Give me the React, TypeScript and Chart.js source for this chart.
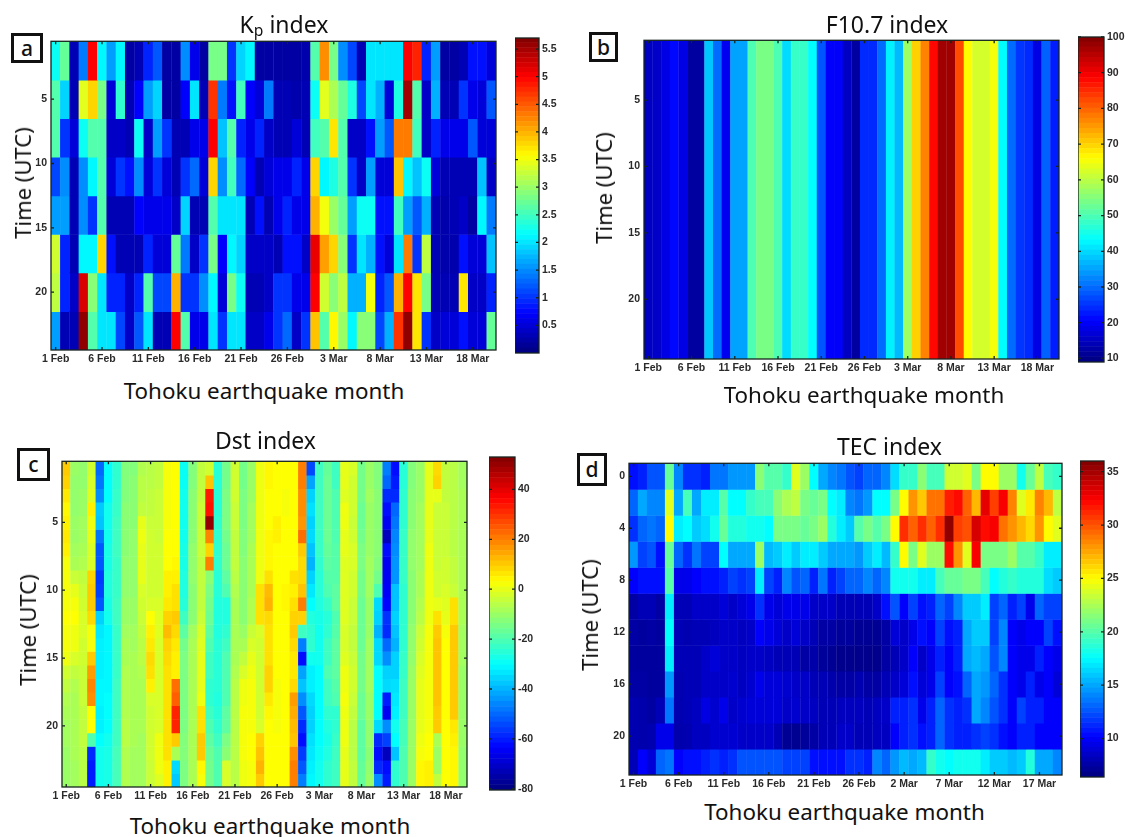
import React, { useEffect, useRef } from "react";
import { Chart, registerables } from "chart.js";

Chart.register(...registerables);

// ---------- axis labels ----------
const febMarLabels = [
  "1 Feb","2 Feb","3 Feb","4 Feb","5 Feb","6 Feb","7 Feb","8 Feb","9 Feb","10 Feb","11 Feb","12 Feb","13 Feb","14 Feb","15 Feb","16 Feb","17 Feb","18 Feb","19 Feb","20 Feb","21 Feb","22 Feb","23 Feb","24 Feb","25 Feb","26 Feb","27 Feb","28 Feb",
  "1 Mar","2 Mar","3 Mar","4 Mar","5 Mar","6 Mar","7 Mar","8 Mar","9 Mar","10 Mar","11 Mar","12 Mar","13 Mar","14 Mar","15 Mar","16 Mar","17 Mar","18 Mar","19 Mar","20 Mar",
];
const tecLabels = [
  "1 Feb","2 Feb","3 Feb","4 Feb","5 Feb","6 Feb","7 Feb","8 Feb","9 Feb","10 Feb","11 Feb","12 Feb","13 Feb","14 Feb","15 Feb","16 Feb","17 Feb","18 Feb","19 Feb","20 Feb","21 Feb","22 Feb","23 Feb","24 Feb","25 Feb","26 Feb","27 Feb","28 Feb","29 Feb",
  "1 Mar","2 Mar","3 Mar","4 Mar","5 Mar","6 Mar","7 Mar","8 Mar","9 Mar","10 Mar","11 Mar","12 Mar","13 Mar","14 Mar","15 Mar","16 Mar","17 Mar","18 Mar","19 Mar",
];

// ---------- Kp: 8 three-hour rows x 48 days ----------
const kpRows = [
  [2.2,2.7,.3,1.4,5.0,2.1,1.6,2.1,.2,.3,.9,1.2,.2,.2,1.5,.6,.2,2.8,2.8,1.0,1.9,2.1,.2,.2,.2,.2,.2,.25,2.6,4.2,2.8,1.5,1.1,.3,2,2,2,2,5,4.8,.9,1.6,.2,.2,.3,.8,.8,.5],
  [2.6,1.9,.3,3.4,3.8,2.8,.5,2.4,.3,.7,1.6,1.9,.2,.2,.7,2.0,.3,4.7,1.4,.8,2.5,.7,.5,1.4,.3,.3,.25,.3,2.2,3.4,3.1,2.7,2.3,1.1,2,1.7,.5,2.3,5.5,2.6,.4,1.7,.3,.3,1,.6,.5,1.2],
  [2.6,1,.5,2.2,2.6,2.6,.4,.4,.3,2.2,.4,1.6,1,.3,.3,.6,.6,5,1.8,2.6,.9,.6,.9,.4,.3,.3,.5,.3,2.5,2.6,3.7,2.6,.4,.4,.8,1.6,1.2,4.3,4.3,2.5,.4,.9,.6,.6,.6,1.2,.5,.5],
  [1.1,1.5,.3,1.5,2.1,2.6,.5,1,.8,1.5,.5,1,.5,.3,1,1.3,.5,3.8,1.5,2.5,1.3,.7,.3,.5,.6,.6,.9,.6,3.8,2.1,2.3,2.6,1,.4,1.6,.5,.5,3.9,2.1,1.8,2.2,.5,.3,.3,.3,.3,1.8,.4],
  [1.6,1.6,.3,1.5,1,2.6,.3,.3,.3,.7,.6,.6,.6,.4,1.9,.3,.3,2.6,2,2,2,.3,.8,.3,.6,.9,.6,.6,4,3.5,3,2.7,1.6,2.2,2.2,.8,.8,2.5,1.6,1.2,1.7,.3,.25,.3,.4,.2,2.1,1.4],
  [3.3,.9,.3,2.1,2.1,3.8,.8,.3,.3,.3,.9,.5,.5,2.7,1.4,.4,1,2.8,.7,2.1,1.9,.4,.4,.4,.3,.8,.8,.4,5.1,4.1,3.8,2.9,1,2,1.7,.8,.5,2,4.3,1,3.2,.3,.25,.25,.8,.5,.5,1.8],
  [3.2,.9,.4,5.2,2.9,2,.9,.9,.4,.9,2.6,1.1,1.1,4,1,1,1.5,2.1,.5,2.8,2.2,.3,.3,.4,1,1,.6,.6,5,3.3,2.9,3.2,1.7,1.7,3.5,.9,1.2,4,5,3.7,2.8,.3,.3,.3,3.7,.4,.4,.9],
  [1.6,.3,.3,5.6,2.6,2,2,1.1,.4,1.2,2,.3,.3,5,2.6,.6,.6,2,1,2,2,.4,.4,.6,1,1.3,.4,1,3.9,2.6,3.6,3,2.1,2.9,2.9,1.1,1.7,4.7,5.6,3.7,1,.4,.5,.5,.8,.5,.5,2.7],
];

// ---------- F10.7: one value per day ----------
const f107Days = [15,15.5,18,21,18,12,12,38,30,19,35,35,50,54,54,50,40,48,48,43,28,20,20,15,12,24,24,30,42,37,57,70,77,88,97,97,82,66,62,62,65,43,30,25,24,18,29,23];

// ---------- Dst: 48 days, each with 24 hourly values ----------
const dstByDay = [
  [10,9,6,4,5,6,5,2,2,2,2,3,2,2,1,-3,-5,-7,-8,-9,-9,-10,-10,-10],
  [-10,-11,-11,-11,-10,-10,-9,-8,-4,0,2,3,1,1,-2,-5,-7,-8,-8,-8,-8,-8,-9,-9],
  [-11,-11,-10,-10,-9,-9,-8,-7,-5,-4,-3,-2,-2,-3,-3,-4,-4,-4,-5,-5,-5,-6,-6,-6],
  [-3,-2,-1,5,1,0,-2,-2,9,10,10,8,2,2,10,16,19,18,3,3,-20,-58,-60,-60],
  [-50,-48,-45,-37,-38,-48,-52,-52,-56,-55,-52,-36,-33,-32,-32,-32,-31,-31,-32,-32,-30,-28,-28,-28],
  [-30,-30,-30,-28,-28,-28,-27,-27,-26,-26,-27,-28,-31,-31,-31,-31,-31,-30,-30,-30,-28,-27,-27,-27],
  [-24,-24,-23,-23,-22,-22,-22,-23,-23,-23,-22,-22,-23,-23,-23,-23,-22,-22,-22,-22,-22,-21,-21,-21],
  [-13,-13,-13,-12,-12,-12,-12,-11,-11,-11,-10,-10,-9,-8,-8,-7,-7,-7,-7,-6,-6,-7,-7,-7],
  [-13,-12,-12,-12,-12,-11,-11,-11,-11,-11,-10,-10,-9,-9,-8,-8,-8,-8,-8,-8,-8,-9,-9,-9],
  [-7,-6,-6,-5,0,1,0,0,0,-2,-3,-4,-5,-6,-6,-7,-8,-8,-8,-8,-9,-9,-9,-9],
  [-6,-6,-5,-5,-4,-3,-3,-3,-3,-3,-2,3,5,6,8,7,5,-2,-3,-3,-3,-3,-4,-4],
  [-5,-5,-4,-4,-4,-4,-3,-3,-3,-3,-2,-1,-1,-2,-2,-2,-2,-2,-2,-2,1,1,1,-1],
  [2,2,2,2,2,3,3,3,5,5,6,9,12,9,8,7,7,7,7,7,7,7,5,5],
  [3,3,3,3,3,3,3,4,5,7,7,10,8,6,5,5,22,24,32,32,10,-8,-35,-37],
  [-29,-29,-28,-28,-28,-28,-27,-27,-26,-26,-25,-22,-18,-15,-14,-14,-14,-14,-14,-14,-13,-13,-14,-14],
  [-13,-13,-12,-12,-12,-12,-11,-11,-11,-12,-12,-12,-9,-8,-8,-8,-8,-8,-8,-8,-8,-8,-8,-8],
  [-5,-5,-5,-4,-4,-4,-4,-5,-5,-5,-5,-4,-2,-1,0,0,0,1,7,7,10,10,4,2],
  [-3,11,33,34,50,19,9,20,-12,-14,-15,-16,-18,-20,-22,-22,-24,-24,-22,-20,-18,-16,-15,-15],
  [-25,-25,-25,-25,-24,-24,-24,-24,-25,-25,-26,-26,-26,-25,-25,-25,-25,-26,-25,-24,-22,-20,-20,-20],
  [-15,-15,-14,-14,-14,-15,-16,-16,-18,-20,-26,-26,-24,-22,-20,-20,-20,-20,-18,-18,-14,-12,-2,-2],
  [-3,-3,-3,-4,-4,-5,-5,-5,-6,-7,-8,-8,-8,-8,-8,-7,-6,-6,-6,-6,-6,-6,-6,-6],
  [-15,-15,-14,-14,-14,-13,-13,-12,-12,-12,-12,-12,-10,-8,-5,-2,1,1,2,2,2,2,1,1],
  [-10,-10,-10,-9,-9,-9,-8,-8,-8,-8,-7,-7,-4,-2,0,1,2,2,2,2,3,3,2,2],
  [1,1,1,1,1,1,1,1,1,7,7,7,-2,-3,-3,-3,-3,-3,-3,-2,9,11,13,10],
  [4,4,3,3,3,4,4,4,7,12,13,8,7,7,7,9,9,6,4,3,3,3,3,3],
  [3,3,3,3,5,5,3,3,3,3,3,3,3,3,3,3,2,2,2,2,3,3,3,3],
  [3,3,2,2,3,3,3,3,3,4,4,3,3,3,3,3,3,3,3,3,3,3,3,3],
  [3,3,3,3,3,3,3,3,7,5,7,9,10,8,6,6,8,16,14,12,11,18,20,20],
  [20,20,18,18,17,22,10,8,8,11,20,9,-22,-47,-62,-42,-38,-45,-52,-58,-62,-56,-52,-47],
  [-54,-42,-36,-34,-36,-35,-38,-40,-36,-33,-30,-26,-24,-24,-28,-32,-32,-35,-36,-36,-34,-33,-32,-31],
  [-22,-22,-22,-22,-22,-23,-23,-24,-25,-25,-26,-27,-28,-28,-28,-30,-30,-30,-30,-30,-30,-29,-28,-28],
  [-17,-16,-16,-16,-16,-16,-17,-18,-19,-20,-23,-25,-24,-22,-22,-20,-22,-22,-24,-26,-27,-26,-24,-24],
  [-22,-22,-20,-20,-20,-20,-19,-19,-19,-18,-18,-20,-19,-18,-18,-18,-19,-20,-24,-24,-23,-22,-22,-22],
  [0,0,-1,1,1,0,0,-1,-1,-1,-1,-1,-2,-2,-1,1,1,2,1,1,1,0,0,0],
  [-2,-3,-3,-3,-4,-3,-2,-2,-3,-3,-4,-4,-5,-5,-4,-3,-3,-4,-5,-6,-6,-6,-5,-5],
  [-15,-15,-15,-16,-16,-15,-14,-14,-15,-15,-16,-16,-16,-16,-15,-15,-15,-16,-16,-18,-18,-18,-17,-17],
  [-10,-10,-9,-10,-10,-10,-10,-9,-9,-9,-10,-10,-10,-9,-9,-9,-9,-10,-10,-11,-11,-12,-11,-10],
  [-13,-13,-12,-12,-12,-12,-12,-13,-15,-20,-35,-36,-40,-35,-35,-30,-30,-30,-30,-35,-58,-62,-58,-45],
  [-47,-50,-58,-62,-65,-72,-62,-65,-65,-64,-63,-57,-58,-50,-45,-36,-35,-60,-65,-45,-55,-72,-62,-60],
  [-62,-60,-58,-50,-48,-46,-45,-44,-44,-38,-38,-36,-38,-40,-36,-36,-34,-33,-32,-28,-30,-38,-24,-24],
  [-25,-25,-24,-24,-24,-23,-23,-23,-23,-24,-24,-24,-24,-24,-23,-23,-22,-22,-22,-21,-21,-20,-20,-20],
  [-13,-13,-12,-12,-12,-11,-11,-11,-12,-12,-12,-12,-11,-11,-11,-10,-10,-10,-10,-10,-10,-10,-10,-10],
  [-10,-10,-10,-9,-9,-9,-9,-9,-8,-8,-7,-6,-4,-3,-2,-1,0,0,0,0,1,2,4,4],
  [0,0,0,0,0,0,1,1,1,1,1,1,2,2,2,2,2,2,2,2,3,3,5,5],
  [8,9,0,-4,-4,-4,-4,-4,-3,-3,0,7,10,11,11,11,11,11,10,10,-8,-10,-10,-5],
  [-5,-5,-5,-4,-4,-4,-4,-3,-3,-2,-1,0,2,3,3,3,3,3,3,3,3,3,3,3],
  [-6,-6,-6,-6,-6,-6,-6,-5,-5,-4,7,7,10,10,10,10,10,10,10,6,5,4,4,4],
  [-9,-9,-8,-8,-8,-8,-8,-8,-8,-8,-8,-8,-9,-9,-9,-10,-10,-10,-10,-10,-10,-11,-11,-11],
];

// ---------- TEC: 12 two-hour rows x 48 days ----------
const tecRows = [
  [10.5,11,12.5,12.5,20.5,14,11.5,11.5,11,13.5,13.5,14.5,14.5,14.5,21.5,20,20,19,24,22,17.5,15,14,13.5,12.5,12,13,13,14,16.5,19,19,21.5,19.5,19.5,23.5,23.5,24,21,25,25,22,22,18,20.5,23,19.5,19],
  [13,15,14,14,24,15,19.5,15,17,17,20,17.5,17.5,19,19.5,19.5,21.5,22.5,23,21,20.5,21,17.5,17,14,13.5,14.5,17.5,17.5,21,25,28,26.5,29,29,31.5,32,29.5,27,33,30.5,32.5,28.5,24,25.5,28.5,27,23],
  [11.5,13,13.5,13,25,17,17.5,16,16.5,18,20.5,18.5,18.5,18,18,17.5,21,21,21,20.5,21,22,18.5,17,16,20,21,20,21,25,31,29.5,31,29.5,31,35.5,30.5,30,33.5,32,32.5,29,28,27,26,28,25,24],
  [14.5,12,12.5,10.5,20.5,13,11.5,13.5,12,12,17.5,15,15,15,22,15.5,16,17,16,17,17,16,15,15,15,14.5,16,17,15.5,19,25,21,24,22,22,32,28,24,32.5,21,21,21,22,20,20,19,17,17],
  [10,10.5,10.5,10.5,20,9.5,9.5,10,10.5,10.5,11,12,11.5,12,17,12,11,14,12.5,13,11,13.5,11,12,13,13,14,13,14,18,18,18,17,17,19.5,20.5,20.5,21,21,19.5,17.5,18.5,19,18.5,18.5,18.5,16.5,16],
  [7.5,8,8,7.5,17,8,8,8.5,8.5,8.5,9,8.5,9,9.5,11.5,9.5,9,9.5,9.5,9.5,8.5,8.5,8.5,8,8,8,8,8.5,10.5,12.5,10,12,10.5,11,13,12,14,16,16,17,12,13,11,12,9.5,13,12,12],
  [7.5,7.3,7.5,7.3,17.5,8,7.8,8,8,8.2,8.5,8.5,8.2,8.5,10,9.5,9,8.5,9,8.5,8,7.5,7.5,7.2,7.3,7,7,7,7.5,9,8.5,9.5,10.5,10,12,10.5,11,15,16,16,12,14,10,9.5,10,10,12,10.5],
  [7.3,7.3,7.3,7.3,17,8,8,8,8.5,9,8.5,8.5,8.3,8.5,8.5,8.3,8,8,8,7.5,7.6,7.2,7,6.8,6.8,6.8,6.8,6.8,7.5,8,8.5,10,8.5,9.5,11,10,11,15,15.5,15,12.5,14,10,9.5,9.5,11,10,9.5],
  [7.5,7.5,7.3,7.3,14.5,7.8,8,8,8.5,8.5,8.5,8.7,8.3,8.7,9.5,9,9,8.7,8.5,8.5,8,8,7.7,7.5,7.5,7.8,7.5,7.5,8,8.5,9,10.5,9,9.5,12,10,10.5,13,15,14.5,13,11.5,10,9.5,11,9.5,10,9],
  [7.8,7.7,7.4,8,13.5,7.8,8,8.3,9.3,8.7,9.5,8.5,8.7,9,9,9,9,8.5,8.7,8.5,8.3,8,8,8.2,8.2,8.2,8,8.3,8.5,11,11,11.5,9.5,11,13,11.5,11,11.5,15,14,12.5,11.5,10,12,11,11,10,10],
  [7.8,7.7,7.8,9.5,9.5,7.7,7.8,8.3,8.3,8.7,8.7,8.8,8.5,8.5,8.5,8.5,8,7,6.9,7.2,7.5,8,8,8.5,8.5,8,8,8.2,8.3,10,11,11.5,10.5,11,13,11.5,11,11,11.5,12,11.5,10.5,10,11,11,10,10,10],
  [8,10,9,13,13.5,10,10.5,10.5,11,11.5,11,11.5,12.5,12.5,12.5,12.5,12.5,12,12,12,10.5,10.5,10.5,10.5,11.5,11.5,11,14,13,14.5,15.5,15,15.5,19,18,17.5,18,18,18,17,16,16,15.5,16,18.5,15,15,14],
];

// ---------- tick values ----------
const hourTicks = [5, 10, 15, 20];
const tecHourTicks = [0, 4, 8, 12, 16, 20];
const kpBarTicks = [0.5, 1, 1.5, 2, 2.5, 3, 3.5, 4, 4.5, 5, 5.5];
const f107BarTicks = [10, 20, 30, 40, 50, 60, 70, 80, 90, 100];
const dstBarTicks = [-80, -60, -40, -20, 0, 20, 40];
const tecBarTicks = [10, 15, 20, 25, 30, 35];

const TICK_FONT = { family: "'Liberation Sans', Arial, sans-serif", size: 10.5, weight: "bold" as const };
const TICK_COLOR = "#2a2a2a";
const FRAME_COLOR = "#16241f";
const LABEL_FONT = "'Noto Sans', 'Open Sans', sans-serif";

function jet(t: number): string {
  const c = (v: number) => Math.round(255 * Math.min(1, Math.max(0, v)));
  return `rgb(${c(1.5 - Math.abs(4 * t - 3))},${c(1.5 - Math.abs(4 * t - 2))},${c(1.5 - Math.abs(4 * t - 1))})`;
}

const transpose = (cols: number[][]) => cols[0].map((_, r) => cols.map((c) => c[r]));

// frame and inward ticks, placed through the chart's own scales
const framePlugin = {
  id: "frame",
  afterDatasetsDraw(chart: any) {
    const { ctx, chartArea: a, scales } = chart;
    ctx.save();
    ctx.strokeStyle = FRAME_COLOR;
    ctx.lineWidth = 1.3;
    ctx.strokeRect(a.left, a.top, a.right - a.left, a.bottom - a.top);
    const L = 3;
    const x = scales.x;
    const y = scales.y;
    ctx.beginPath();
    if (x && x.options.display) {
      x.ticks.forEach((t: any, i: number) => {
        if (t.label === null || t.label === undefined || t.label === "") return;
        const px = x.getPixelForTick(i);
        ctx.moveTo(px, a.bottom); ctx.lineTo(px, a.bottom - L);
        ctx.moveTo(px, a.top); ctx.lineTo(px, a.top + L);
      });
    }
    y.ticks.forEach((t: any) => {
      const py = y.getPixelForValue(t.value);
      ctx.moveTo(a.left, py); ctx.lineTo(a.left + L, py);
      ctx.moveTo(a.right, py); ctx.lineTo(a.right - L, py);
    });
    ctx.stroke();
    ctx.restore();
  },
};

type Heat = {
  rows: number[][]; labels: string[]; yMin: number; yMax: number; yTicks: number[];
  vMin: number; vMax: number; plot: [number, number, number, number];
};
type Bar = { vMin: number; vMax: number; ticks: number[]; plot: [number, number, number, number] };

const panels: { heat: Heat; bar: Bar }[] = [
  {
    heat: { rows: kpRows, labels: febMarLabels, yMin: 0.5, yMax: 24.5, yTicks: hourTicks, vMin: 0, vMax: 5.7, plot: [51, 37, 496, 350] },
    bar: { vMin: 0, vMax: 5.7, ticks: kpBarTicks, plot: [515, 38, 539, 353] },
  },
  {
    heat: { rows: [f107Days], labels: febMarLabels, yMin: 0.5, yMax: 24.5, yTicks: hourTicks, vMin: 9, vMax: 100, plot: [644, 36, 1059, 359] },
    bar: { vMin: 9, vMax: 100, ticks: f107BarTicks, plot: [1078, 37, 1104, 362] },
  },
  {
    heat: { rows: transpose(dstByDay), labels: febMarLabels, yMin: 0.5, yMax: 24.5, yTicks: hourTicks, vMin: -80, vMax: 53, plot: [62, 457, 467, 787] },
    bar: { vMin: -80.5, vMax: 53, ticks: dstBarTicks, plot: [489, 457, 515, 790] },
  },
  {
    heat: { rows: tecRows, labels: tecLabels, yMin: -1, yMax: 23, yTicks: tecHourTicks, vMin: 6.4, vMax: 36, plot: [629, 459, 1062, 775] },
    bar: { vMin: 6.4, vMax: 36, ticks: tecBarTicks, plot: [1080, 461, 1104, 777] },
  },
];

const M = { left: 45, right: 6, top: 6, bottom: 20 };
const BM = { right: 27, top: 10, bottom: 10 };

function heatConfig(h: Heat): any {
  const rowH = (h.yMax - h.yMin) / h.rows.length;
  const datasets = h.rows.map((row, r) => ({
    label: `row ${r}`,
    data: row.map(() => [h.yMin + r * rowH, h.yMin + (r + 1) * rowH + 0.04] as [number, number]),
    backgroundColor: row.map((v) => jet((v - h.vMin) / (h.vMax - h.vMin))),
    borderWidth: 0,
    barPercentage: 1.04,
    categoryPercentage: 1,
  }));
  return {
    type: "bar",
    data: { labels: h.labels, datasets },
    plugins: [framePlugin],
    options: {
      animation: false, responsive: false, events: [],
      layout: { padding: { top: M.top, right: M.right } },
      plugins: { legend: { display: false }, tooltip: { enabled: false } },
      scales: {
        x: {
          stacked: true, offset: true,
          grid: { display: false, drawTicks: false }, border: { display: false },
          ticks: {
            autoSkip: false, maxRotation: 0, minRotation: 0, padding: 3,
            font: TICK_FONT, color: TICK_COLOR,
            callback(this: any, _v: any, i: number) { return i % 5 === 0 ? h.labels[i] : null; },
          },
          afterFit(s: any) { s.height = M.bottom; },
        },
        y: {
          reverse: true, min: h.yMin, max: h.yMax,
          grid: { display: false, drawTicks: false }, border: { display: false },
          ticks: { padding: 4, font: TICK_FONT, color: TICK_COLOR, autoSkip: false, callback: (v: any) => String(v) },
          afterBuildTicks(s: any) { s.ticks = h.yTicks.map((value) => ({ value })); },
          afterFit(s: any) { s.width = M.left; },
        },
      },
    },
  };
}

function barConfig(b: Bar): any {
  const levels: number[] = [];
  for (let i = 0; i < 64; i++) levels.push(i);
  const step = (b.vMax - b.vMin) / 64;
  return {
    type: "bar",
    data: {
      labels: ["colour"],
      datasets: levels.map((i) => ({
        label: `level ${i}`,
        data: [[b.vMin + i * step, b.vMin + (i + 1) * step + step * 0.1]],
        backgroundColor: jet((i + 0.5) / 64),
        borderWidth: 0,
        barPercentage: 1.04,
        categoryPercentage: 1,
      })),
    },
    plugins: [framePlugin],
    options: {
      animation: false, responsive: false, events: [],
      layout: { padding: { top: BM.top, bottom: BM.bottom } },
      plugins: { legend: { display: false }, tooltip: { enabled: false } },
      scales: {
        x: { stacked: true, display: false },
        y: {
          position: "right", min: b.vMin, max: b.vMax,
          grid: { display: false, drawTicks: false }, border: { display: false },
          ticks: { padding: 3, font: TICK_FONT, color: TICK_COLOR, autoSkip: false, callback: (v: any) => String(v) },
          afterBuildTicks(s: any) { s.ticks = b.ticks.map((value) => ({ value })); },
          afterFit(s: any) { s.width = BM.right; },
        },
      },
    },
  };
}

function ChartCanvas({ config, style, width, height }: any) {
  const ref = useRef<HTMLCanvasElement>(null);
  useEffect(() => {
    const chart = new Chart(ref.current as HTMLCanvasElement, config);
    return () => chart.destroy();
  }, []);
  return <canvas ref={ref} width={width} height={height} style={{ position: "absolute", display: "block", width, height, ...style }} />;
}

function Text({ x, y, size = 22.4, rotate = false, children }: any) {
  return (
    <div style={{
      position: "absolute", left: x, top: y, fontFamily: LABEL_FONT, fontSize: size, color: "#111", whiteSpace: "nowrap", lineHeight: 1,
      transform: `translate(-50%,-50%)${rotate ? " rotate(-90deg)" : ""}`,
    }}>{children}</div>
  );
}

function Tag({ x0, y0, x1, y1, children }: any) {
  return (
    <div style={{
      position: "absolute", left: x0, top: y0, width: x1 - x0, height: y1 - y0, boxSizing: "border-box", border: "3px solid #111", background: "#fff",
      display: "flex", alignItems: "center", justifyContent: "center", fontFamily: LABEL_FONT, fontSize: 21, fontWeight: 500, color: "#111", lineHeight: 1,
    }}>{children}</div>
  );
}

export default function App() {
  return (
    <div style={{ position: "absolute", left: 0, top: 0, width: 1131, height: 837, overflow: "hidden", background: "#fff", filter: "blur(0.6px)" }}>
      {panels.map((p, i) => {
        const [l, t, r, b] = p.heat.plot;
        const [bl, bt, br, bb] = p.bar.plot;
        return (
          <React.Fragment key={i}>
            <ChartCanvas config={heatConfig(p.heat)} width={r - l + M.left + M.right} height={b - t + M.top + M.bottom} style={{ left: l - M.left, top: t - M.top }} />
            <ChartCanvas config={barConfig(p.bar)} width={br - bl + BM.right} height={bb - bt + BM.top + BM.bottom} style={{ left: bl, top: bt - BM.top }} />
          </React.Fragment>
        );
      })}
      <Text x={284} y={24} size={23}>K<span style={{ fontSize: "0.68em", position: "relative", top: "0.22em" }}>p</span> index</Text>
      <Text x={887} y={24} size={23}>F10.7 index</Text>
      <Text x={265.5} y={440} size={23}>Dst index</Text>
      <Text x={889.5} y={446} size={23}>TEC index</Text>
      <Text x={264} y={391}>Tohoku earthquake month</Text>
      <Text x={864} y={395}>Tohoku earthquake month</Text>
      <Text x={270} y={826}>Tohoku earthquake month</Text>
      <Text x={844.5} y={812}>Tohoku earthquake month</Text>
      <Text x={22} y={183} size={22} rotate>Time (UTC)</Text>
      <Text x={603} y={188} size={22} rotate>Time (UTC)</Text>
      <Text x={27} y={630} size={22} rotate>Time (UTC)</Text>
      <Text x={589} y={615} size={22} rotate>Time (UTC)</Text>
      <Tag x0={11} y0={33} x1={43} y1={63}>a</Tag>
      <Tag x0={589} y0={32} x1={618} y1={62}>b</Tag>
      <Tag x0={17} y0={448} x1={50} y1={481}>c</Tag>
      <Tag x0={577} y0={453} x1={607} y1={486}>d</Tag>
    </div>
  );
}
